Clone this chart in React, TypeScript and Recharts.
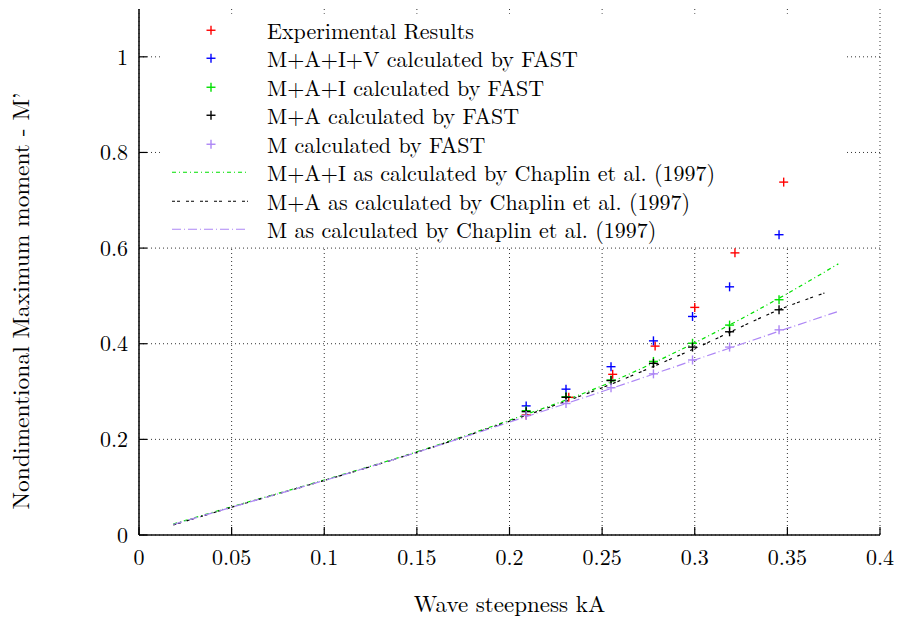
import React from 'react';
import {
  ComposedChart,
  Scatter,
  Line,
  XAxis,
  YAxis,
  CartesianGrid,
  ReferenceArea,
  Legend,
} from 'recharts';

const FONT = "'Latin Modern Roman', 'Liberation Serif', serif";
const W = 907;
const H = 620;

// ---- ticks ----
const xTicks = [0, 0.05, 0.1, 0.15, 0.2, 0.25, 0.3, 0.35, 0.4];
const xTickLabels = ['0', '0.05', '0.1', '0.15', '0.2', '0.25', '0.3', '0.35', '0.4'];
const yTicks = [0, 0.2, 0.4, 0.6, 0.8, 1];
const yTickLabels = ['0', '0.2', '0.4', '0.6', '0.8', '1'];

// ---- experimental results ----
const expKA = [0.209, 0.232, 0.2557, 0.2786, 0.3, 0.3217, 0.348];
const expM = [0.251, 0.288, 0.336, 0.395, 0.476, 0.59, 0.738];

// ---- FAST results ----
const fastKA = [0.209, 0.2305, 0.2548, 0.2777, 0.2988, 0.3188, 0.3455];
const fastMAIV = [0.27, 0.305, 0.352, 0.406, 0.457, 0.519, 0.628];
const fastMAI = [0.26, 0.289, 0.324, 0.363, 0.401, 0.439, 0.492];
const fastMA = [0.258, 0.288, 0.323, 0.359, 0.393, 0.425, 0.471];
const fastM = [0.25, 0.275, 0.308, 0.337, 0.366, 0.393, 0.429];

// ---- Chaplin et al. (1997) ----
const chapKA_MAI = [0.0185, 0.05, 0.1, 0.15, 0.2, 0.25, 0.3, 0.35, 0.3775];
const chapMAI = [0.023, 0.059, 0.115, 0.174, 0.24, 0.312, 0.402, 0.505, 0.567];
const chapKA_MA = [0.0185, 0.05, 0.1, 0.15, 0.2, 0.25, 0.3, 0.35, 0.37];
const chapMA = [0.021, 0.058, 0.114, 0.173, 0.238, 0.308, 0.39, 0.478, 0.506];
const chapKA_M = [0.0185, 0.05, 0.1, 0.15, 0.2, 0.25, 0.3, 0.35, 0.377];
const chapM = [0.022, 0.058, 0.114, 0.173, 0.236, 0.3, 0.366, 0.432, 0.467];

const zip = (xs: number[], ys: number[]) => xs.map((x, i) => ({ x, y: ys[i] }));

const RED = '#ff0000';
const BLUE = '#0000ff';
const GREEN = '#00e000';
const BLACK = '#000000';
const PURPLE = '#ad86f5';

const pointSeries = [
  { name: 'Experimental Results', color: RED, data: zip(expKA, expM) },
  { name: 'M+A+I+V calculated by FAST', color: BLUE, data: zip(fastKA, fastMAIV) },
  { name: 'M+A+I calculated by FAST', color: GREEN, data: zip(fastKA, fastMAI) },
  { name: 'M+A calculated by FAST', color: BLACK, data: zip(fastKA, fastMA) },
  { name: 'M calculated by FAST', color: PURPLE, data: zip(fastKA, fastM) },
];

const lineSeries = [
  { name: 'M+A+I as calculated by Chaplin et al. (1997)', color: GREEN, dash: '4 3 1 3', data: zip(chapKA_MAI, chapMAI) },
  { name: 'M+A as calculated by Chaplin et al. (1997)', color: BLACK, dash: '3 2 3 6', data: zip(chapKA_MA, chapMA) },
  { name: 'M as calculated by Chaplin et al. (1997)', color: PURPLE, dash: '9 3 1 3', data: zip(chapKA_M, chapM) },
];

const labelFor = (ticks: number[], labels: string[], v: number) => {
  const i = ticks.findIndex((t) => Math.abs(t - v) < 1e-9);
  return i >= 0 ? labels[i] : String(v);
};

const TICK_LEN = 8;
const TICK_FONT = 22;

const BottomTick = (props: any) => {
  const { x, y, payload } = props;
  return (
    <g>
      <line x1={x} x2={x} y1={y} y2={y - TICK_LEN} stroke="#000" strokeWidth={1.2} />
      <text x={x} y={y + 30} textAnchor="middle" fontFamily={FONT} style={{ fontFamily: FONT }} fontSize={TICK_FONT} fill="#000">
        {labelFor(xTicks, xTickLabels, payload.value)}
      </text>
    </g>
  );
};

const TopTick = (props: any) => {
  const { x, y } = props;
  return <line x1={x} x2={x} y1={y} y2={y + TICK_LEN} stroke="#000" strokeWidth={1.2} />;
};

const LeftTick = (props: any) => {
  const { x, y, payload } = props;
  return (
    <g>
      <line x1={x} x2={x + TICK_LEN} y1={y} y2={y} stroke="#000" strokeWidth={1.2} />
      <text x={x - 11} y={y} dy="0.35em" textAnchor="end" fontFamily={FONT} style={{ fontFamily: FONT }} fontSize={TICK_FONT} fill="#000">
        {labelFor(yTicks, yTickLabels, payload.value)}
      </text>
    </g>
  );
};

const RightTick = (props: any) => {
  const { x, y } = props;
  return <line x1={x} x2={x - TICK_LEN} y1={y} y2={y} stroke="#000" strokeWidth={1.2} />;
};

const XTitle = (props: any) => {
  const vb = props.viewBox || {};
  return (
    <text x={vb.x + vb.width / 2} y={vb.y + 77} textAnchor="middle" fontFamily={FONT} style={{ fontFamily: FONT }} fontSize={23} fill="#000">
      Wave steepness kA
    </text>
  );
};

const YTitle = (props: any) => {
  const vb = props.viewBox || {};
  const cx = vb.x - 50;
  const cy = 301;
  return (
    <text
      x={cx}
      y={cy}
      textAnchor="middle"
      transform={`rotate(-90 ${cx} ${cy})`}
      fontFamily={FONT}
      style={{ fontFamily: FONT }}
      fontSize={23.5}
      fill="#000"
    >
      Nondimentional Maximum moment - M’
    </text>
  );
};

const makePlus = (color: string, r = 4.5) => (props: any) => {
  const { cx, cy } = props;
  if (cx == null || cy == null) return <g />;
  return (
    <g>
      <line x1={cx - r} x2={cx + r} y1={cy} y2={cy} stroke={color} strokeWidth={1.4} />
      <line x1={cx} x2={cx} y1={cy - r} y2={cy + r} stroke={color} strokeWidth={1.4} />
    </g>
  );
};

const ROW_H = 28.5;

const LegendBox = () => {
  const rows = [
    ...pointSeries.map((s) => ({ name: s.name, color: s.color, kind: 'point', dash: '' })),
    ...lineSeries.map((s) => ({ name: s.name, color: s.color, kind: 'line', dash: s.dash })),
  ];
  return (
    <div style={{ fontFamily: FONT, fontSize: 22, color: '#000' }}>
      {rows.map((r) => (
        <div key={r.name} style={{ display: 'flex', alignItems: 'center', height: ROW_H }}>
          <svg width={107} height={ROW_H} style={{ display: 'block', flex: 'none' }}>
            {r.kind === 'point' ? (
              <g>
                <line x1={51 - 4.5} x2={51 + 4.5} y1={ROW_H / 2} y2={ROW_H / 2} stroke={r.color} strokeWidth={1.4} />
                <line x1={51} x2={51} y1={ROW_H / 2 - 4.5} y2={ROW_H / 2 + 4.5} stroke={r.color} strokeWidth={1.4} />
              </g>
            ) : (
              <line x1={12} x2={88} y1={ROW_H / 2} y2={ROW_H / 2} stroke={r.color} strokeWidth={1.2} strokeDasharray={r.dash} />
            )}
          </svg>
          <span style={{ whiteSpace: 'nowrap', lineHeight: `${ROW_H}px`, fontFamily: FONT }}>{r.name}</span>
        </div>
      ))}
    </div>
  );
};

export default function App() {
  return (
    <div style={{ position: 'absolute', left: 0, top: 0, width: W, height: H, background: '#fff', fontFamily: FONT }}>
      <ComposedChart width={W} height={H} margin={{ top: 9, right: 27, bottom: 55, left: 79 }} style={{ fontFamily: FONT }}>
        <CartesianGrid
          stroke="#333"
          strokeWidth={1}
          strokeDasharray="1 3"
          horizontalValues={yTicks}
          verticalValues={xTicks}
        />
        <ReferenceArea x1={0.0113} x2={0.381} y1={0.603} y2={1.09} fill="#fff" fillOpacity={1} stroke="none" />
        <XAxis
          type="number"
          dataKey="x"
          domain={[0, 0.4]}
          ticks={xTicks}
          allowDataOverflow
          height={30}
          tickSize={0}
          tickMargin={0}
          tick={<BottomTick />}
          axisLine={{ stroke: '#111', strokeWidth: 1.6 }}
          tickLine={false}
          interval={0}
          label={<XTitle />}
        />
        <XAxis
          xAxisId="top"
          orientation="top"
          type="number"
          domain={[0, 0.4]}
          ticks={xTicks}
          allowDataOverflow
          height={0}
          tickSize={0}
          tickMargin={0}
          tick={<TopTick />}
          axisLine={{ stroke: '#111', strokeWidth: 1.6 }}
          tickLine={false}
          interval={0}
        />
        <YAxis
          type="number"
          dataKey="y"
          domain={[0, 1.1]}
          ticks={yTicks}
          allowDataOverflow
          width={60}
          tickSize={0}
          tickMargin={0}
          tick={<LeftTick />}
          axisLine={{ stroke: '#111', strokeWidth: 1.6 }}
          tickLine={false}
          interval={0}
          label={<YTitle />}
        />
        <YAxis
          yAxisId="right"
          orientation="right"
          type="number"
          domain={[0, 1.1]}
          ticks={yTicks}
          allowDataOverflow
          width={0}
          tickSize={0}
          tickMargin={0}
          tick={<RightTick />}
          axisLine={{ stroke: '#111', strokeWidth: 1.6 }}
          tickLine={false}
          interval={0}
        />
        {lineSeries.map((s) => (
          <Line
            key={s.name}
            name={s.name}
            data={s.data}
            dataKey="y"
            type="monotone"
            stroke={s.color}
            strokeWidth={1.2}
            strokeDasharray={s.dash}
            dot={false}
            activeDot={false}
            isAnimationActive={false}
          />
        ))}
        {pointSeries.map((s) => (
          <Scatter
            key={s.name}
            name={s.name}
            data={s.data}
            dataKey="y"
            shape={makePlus(s.color)}
            isAnimationActive={false}
          />
        ))}
        <Legend
          layout="vertical"
          align="center"
          verticalAlign="middle"
          wrapperStyle={{ left: 160, top: 15.5, width: 690, height: 'auto' }}
          content={() => <LegendBox />}
        />
      </ComposedChart>
    </div>
  );
}
